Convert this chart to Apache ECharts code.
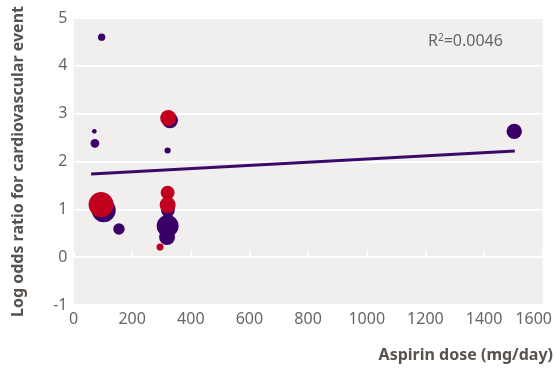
<!DOCTYPE html>
<html>
<head>
<meta charset="utf-8">
<script src="https://cdn.jsdelivr.net/npm/echarts@6/dist/echarts.min.js"></script>
<style>
  html, body { margin: 0; padding: 0; background: #fff; }
  #main { width: 555px; height: 369px; }
</style>
</head>
<body>
<div id="main"></div>
<script>
// studies shown in purple
var purpleDose  = [96, 71, 73, 329, 321, 1503, 103, 155, 322, 321, 319];
var purpleLogOR = [4.60, 2.63, 2.38, 2.86, 2.23, 2.63, 0.98, 0.59, 0.98, 0.65, 0.42];
var purpleWeight = [8.5, 3.5, 12, 41, 6, 38, 92, 21, 30, 77, 41];

// studies shown in red
var redDose  = [323, 94, 321, 321, 295];
var redLogOR = [2.91, 1.10, 1.35, 1.09, 0.21];
var redWeight = [41, 100, 31, 41, 8];

// fitted line
var trendDose  = [60, 1505];
var trendLogOR = [1.74, 2.22];

var xTicks = [0, 1600, 200];
var yTicks = [-1, 5, 1];

function pts(xs, ys, ws) {
    var out = [];
    for (var i = 0; i < xs.length; i++) {
        out.push(ws ? [xs[i], ys[i], ws[i]] : [xs[i], ys[i]]);
    }
    return out;
}

var bubbleSize = function(v) { return Math.sqrt(v[2]) * 2.5; };

var myChart = echarts.init(document.getElementById('main'));
var option = {
    animation: false,
    grid: {
        left: 73.5, right: 12, top: 18, bottom: 64,
        show: true,
        backgroundColor: '#f0efee',
        borderWidth: 0
    },
    xAxis: {
        type: 'value',
        min: xTicks[0], max: xTicks[1], interval: xTicks[2],
        axisLine: { show: false },
        axisTick: { show: true, inside: true, length: 6, lineStyle: { color: '#fff', width: 2 } },
        splitLine: { show: false },
        axisLabel: {
            color: '#666', fontSize: 16, fontFamily: 'Noto Sans', margin: 6, showMaxLabel: true,
            formatter: function(v) {
                return v === xTicks[1] ? '{last|' + v + '}' : String(v);
            },
            rich: { last: { padding: [0, 18, 0, 0], fontSize: 16, color: '#666', fontFamily: 'Noto Sans' } }
        }
    },
    yAxis: {
        type: 'value',
        min: yTicks[0], max: yTicks[1], interval: yTicks[2],
        axisLine: { show: false },
        axisTick: { show: false },
        splitLine: { lineStyle: { color: '#fff', width: 2 } },
        axisLabel: { color: '#666', fontSize: 16, fontFamily: 'Noto Sans', margin: 6 },
        name: 'Log odds ratio for cardiovascular event',
        nameLocation: 'middle',
        nameGap: 47,
        nameTextStyle: { color: '#57524e', fontSize: 16, fontWeight: 'bold', fontFamily: 'Noto Sans' }
    },
    graphic: [{
        type: 'text',
        right: 2,
        top: 347,
        style: {
            text: 'Aspirin dose (mg/day)',
            fill: '#57524e',
            font: 'bold 16px "Noto Sans"'
        }
    }, {
        type: 'text',
        left: 428,
        top: 33,
        style: {
            text: 'R{sup|2}=0.0046',
            fill: '#666',
            font: '16px "Noto Sans"',
            rich: {
                sup: { fontSize: 10, verticalAlign: 'top', padding: [0, 0, 7, 0], fill: '#666', fontFamily: 'Noto Sans' }
            }
        }
    }],
    series: [{
        type: 'line',
        data: pts(trendDose, trendLogOR),
        showSymbol: false,
        lineStyle: { color: '#3a0a6b', width: 3 },
        z: 2
    }, {
        type: 'scatter',
        data: pts(purpleDose, purpleLogOR, purpleWeight),
        symbolSize: bubbleSize,
        itemStyle: { color: '#3a0067', opacity: 1 },
        z: 3
    }, {
        type: 'scatter',
        data: pts(redDose, redLogOR, redWeight),
        symbolSize: bubbleSize,
        itemStyle: { color: '#c0001e', opacity: 1 },
        z: 4
    }]
};
myChart.setOption(option);
</script>
</body>
</html>
